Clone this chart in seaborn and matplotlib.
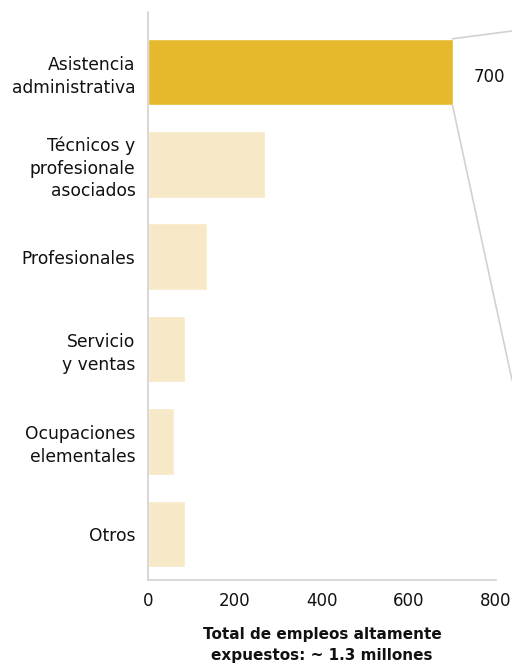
import matplotlib
matplotlib.use("Agg")
import matplotlib.pyplot as plt
from matplotlib.patches import ConnectionPatch
import seaborn as sns
import pandas as pd

categories = [
    "Asistencia\nadministrativa",
    "Técnicos y\nprofesionale\nasociados",
    "Profesionales",
    "Servicio\ny ventas",
    "Ocupaciones\nelementales",
    "Otros",
]
values = [700, 270, 135, 85, 60, 85]
highlight = "Asistencia\nadministrativa"
xticks = [0, 200, 400, 600, 800]
xlabel = "Total de empleos altamente\nexpuestos: ~ 1.3 millones"

GOLD = "#E6B92C"
PALE = "#F7E9C7"
GRID = "#D4D0CF"
INK = "#111111"

sns.set_theme(style="white")
plt.rcParams["font.family"] = ["DejaVu Sans"]

df = pd.DataFrame({"cat": categories, "val": values})
palette = {c: (GOLD if c == highlight else PALE) for c in categories}

fig = plt.figure(figsize=(5.12, 6.67), dpi=100)
ax = fig.add_axes([148 / 512, 1 - 580 / 667, (496 - 148) / 512, (580 - 12) / 667])

bar_w = 0.72
sns.barplot(data=df, y="cat", x="val", hue="cat", palette=palette,
            order=categories, orient="h", width=bar_w, legend=False,
            saturation=1, ax=ax)

ax.set_xlim(0, 800)
ax.set_ylim(5.5, -0.65)
ax.set_xticks(xticks)
ax.set_xticklabels([str(t) for t in xticks], fontsize=12, color=INK)
ax.tick_params(axis="y", labelsize=12.3, labelcolor=INK, length=0, pad=9)
ax.tick_params(axis="x", length=0, pad=9)
plt.setp(ax.get_yticklabels(), linespacing=1.32)
ax.set_ylabel("")
ax.set_xlabel(xlabel, fontsize=11, fontweight="bold", color=INK,
              labelpad=12, linespacing=1.5)

for s in ["top", "right"]:
    ax.spines[s].set_visible(False)
for s in ["left", "bottom"]:
    ax.spines[s].set_color(GRID)
    ax.spines[s].set_linewidth(1.2)

# value label for the highlighted bar (numeric position on the category axis)
ax.annotate(f"{values[0]}", xy=(values[0] + 84, 0.05), xycoords=ax.transData,
            va="center", ha="center", fontsize=12, color=INK)

# guide lines leading from the highlighted bar toward a detail panel
half = bar_w / 2
for y0, yfig in [(-half, 1 - 31 / 667), (half, 1 - 380 / 667)]:
    con = ConnectionPatch(xyA=(values[0], y0), coordsA=ax.transData,
                          xyB=(1.0, yfig), coordsB="figure fraction",
                          color=GRID, linewidth=1.2)
    fig.add_artist(con)

fig.savefig("out.png", dpi=100)
